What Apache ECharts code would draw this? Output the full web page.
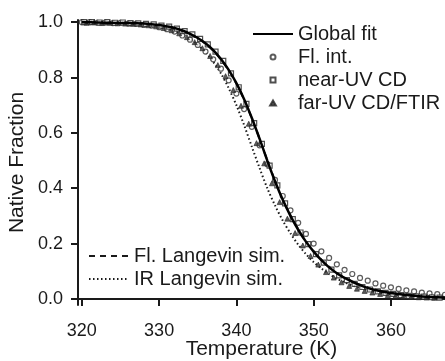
<!DOCTYPE html>
<html>
<head>
<meta charset="utf-8">
<script src="https://cdn.jsdelivr.net/npm/echarts@6/dist/echarts.min.js"></script>
<style>
  html, body { margin: 0; padding: 0; background: #fff; }
  #chart { width: 445px; height: 361px; }
</style>
</head>
<body>
<div id="chart"></div>
<script>
// temperature grid for the curves (K)
const curveT = [320, 322, 324, 326, 328, 329, 330, 331, 332, 333, 334, 335, 336, 337, 338, 339, 340,
  341, 342, 343, 344, 345, 346, 347, 348, 349, 350, 351, 352, 353, 354, 355, 356, 357, 358, 359, 360,
  362, 364, 367];

const globalFit = [1.000, 0.999, 0.998, 0.997, 0.995, 0.993, 0.990, 0.985, 0.979, 0.970, 0.958, 0.943,
  0.924, 0.899, 0.867, 0.828, 0.780, 0.722, 0.654, 0.579, 0.500, 0.425, 0.358, 0.300, 0.250, 0.207,
  0.171, 0.140, 0.114, 0.093, 0.076, 0.062, 0.050, 0.040, 0.032, 0.026, 0.021, 0.014, 0.009, 0.005];

const flLangevin = [1.000, 0.999, 0.998, 0.997, 0.995, 0.993, 0.990, 0.985, 0.978, 0.969, 0.957, 0.942,
  0.922, 0.897, 0.865, 0.826, 0.778, 0.720, 0.653, 0.579, 0.501, 0.427, 0.360, 0.302, 0.252, 0.209,
  0.173, 0.142, 0.116, 0.095, 0.078, 0.063, 0.051, 0.041, 0.033, 0.027, 0.022, 0.015, 0.010, 0.005];

const irLangevin = [1.000, 0.999, 0.997, 0.995, 0.991, 0.988, 0.983, 0.977, 0.967, 0.955, 0.939, 0.918,
  0.891, 0.857, 0.815, 0.762, 0.700, 0.628, 0.550, 0.473, 0.400, 0.338, 0.283, 0.237, 0.196, 0.162,
  0.133, 0.110, 0.090, 0.073, 0.060, 0.049, 0.040, 0.032, 0.026, 0.021, 0.017, 0.011, 0.007, 0.004];

// Fl. int. points, T = 320 .. 367
const flT = [320, 321, 322, 323, 324, 325, 326, 327, 328, 329, 330, 331, 332, 333, 334, 335, 336, 337,
  338, 339, 340, 341, 342, 343, 344, 345, 346, 347, 348, 349, 350, 351, 352, 353, 354, 355, 356, 357,
  358, 359, 360, 361, 362, 363, 364, 365, 366, 367];
const flInt = [1.000, 1.000, 0.998, 0.999, 0.997, 0.998, 0.995, 0.994, 0.990, 0.988, 0.982, 0.975,
  0.966, 0.952, 0.937, 0.918, 0.894, 0.866, 0.832, 0.790, 0.742, 0.686, 0.622, 0.555, 0.487, 0.430,
  0.372, 0.320, 0.275, 0.235, 0.200, 0.172, 0.148, 0.125, 0.105, 0.090, 0.076, 0.066, 0.056, 0.048,
  0.042, 0.036, 0.031, 0.027, 0.023, 0.020, 0.017, 0.015];

// near-UV CD points
const nearT = [320.3, 321.3, 322.3, 323.3, 324.3, 325.3, 326.3, 327.3, 328.3, 329.3, 330.3, 331.3,
  332.3, 333.3, 334.3, 335.3, 336.3, 337.3, 338.3, 339.3, 340.3, 341.3, 342.3, 343.3, 344.3, 345.3,
  346.3, 347.3, 348.3, 349.3, 350.3, 351.3, 352.3, 353.3, 354.3, 355.3, 356.3, 357.3, 358.3, 359.3,
  360.3, 361.3, 362.3, 363.3, 364.3, 365.3, 366.3];
const nearUV = [1.000, 1.000, 0.999, 1.000, 0.998, 0.999, 0.997, 0.996, 0.994, 0.992, 0.988, 0.984,
  0.977, 0.968, 0.956, 0.940, 0.920, 0.894, 0.860, 0.815, 0.765, 0.705, 0.635, 0.560, 0.482, 0.410,
  0.345, 0.288, 0.240, 0.198, 0.162, 0.131, 0.106, 0.085, 0.068, 0.054, 0.043, 0.034, 0.027, 0.022,
  0.018, 0.014, 0.011, 0.009, 0.008, 0.006, 0.005];

// far-UV CD / FTIR points
const farT = [320.6, 321.6, 322.6, 323.6, 324.6, 325.6, 326.6, 327.6, 328.6, 329.6, 330.6, 331.6,
  332.6, 333.6, 334.6, 335.6, 336.6, 337.6, 338.6, 339.6, 340.6, 341.6, 342.6, 343.6, 344.6, 345.6,
  346.6, 347.6, 348.6, 349.6, 350.6, 351.6, 352.6, 353.6, 354.6, 355.6, 356.6, 357.6, 358.6, 359.6,
  360.6, 361.6, 362.6, 363.6, 364.6, 365.6];
const farUV = [0.998, 1.000, 0.997, 0.998, 0.996, 0.995, 0.994, 0.992, 0.989, 0.985, 0.979, 0.971,
  0.960, 0.946, 0.928, 0.906, 0.878, 0.845, 0.805, 0.755, 0.698, 0.633, 0.563, 0.490, 0.418, 0.350,
  0.290, 0.238, 0.193, 0.155, 0.124, 0.097, 0.077, 0.060, 0.047, 0.037, 0.029, 0.023, 0.018, 0.014,
  0.011, 0.009, 0.007, 0.006, 0.005, 0.004];

const xTicks = [320, 330, 340, 350, 360];
const yTicks = [0.0, 0.2, 0.4, 0.6, 0.8, 1.0];

const pair = (xs, ys) => xs.map((x, i) => [x, ys[i]]);

const FONT = 'Liberation Sans';
const INK = '#1a1a1a';

// legend icons: small marker centred in a 40x5 box
const squareIcon = 'path://M0,0M40,5M17.5,0h5v5h-5z';
const triangleIcon = 'path://M0,0M40,5M20,0L22.9,5L17.1,5z';
const hideMarker = { opacity: 0 };

const chart = echarts.init(document.getElementById('chart'), null, { renderer: 'canvas' });

const legendText = { fontFamily: FONT, fontSize: 20, color: INK };

const option = {
  animation: false,
  backgroundColor: '#fff',
  textStyle: { fontFamily: FONT, color: INK },
  grid: { left: 78, right: 0, top: 20, bottom: 56, outerBoundsMode: 'none' },
  legend: [
    {
      left: 252,
      top: 24,
      padding: 0,
      orient: 'vertical',
      itemWidth: 40,
      itemHeight: 5,
      itemGap: 3,
      textStyle: legendText,
      data: [
        { name: 'Global fit', itemStyle: hideMarker },
        { name: 'Fl. int.' },
        { name: 'near-UV CD', icon: squareIcon },
        { name: 'far-UV CD/FTIR', icon: triangleIcon }
      ]
    },
    {
      left: 88,
      top: 246,
      padding: 0,
      orient: 'vertical',
      itemWidth: 40,
      itemHeight: 5,
      itemGap: 3,
      textStyle: legendText,
      data: [
        { name: 'Fl. Langevin sim.', itemStyle: hideMarker },
        { name: 'IR Langevin sim.', itemStyle: hideMarker }
      ]
    }
  ],
  xAxis: {
    type: 'value',
    min: 319.5,
    max: 367,
    name: 'Temperature (K)',
    nameLocation: 'middle',
    nameGap: 34,
    nameMoveOverlap: false,
    nameTextStyle: { fontFamily: FONT, fontSize: 21, color: INK },
    axisLine: { lineStyle: { color: INK, width: 2 } },
    axisTick: { customValues: xTicks, length: 7, lineStyle: { color: INK, width: 2 } },
    axisLabel: { customValues: xTicks, margin: 17, fontFamily: FONT, fontSize: 18, color: INK },
    splitLine: { show: false }
  },
  yAxis: {
    type: 'value',
    min: -0.022,
    max: 1.008,
    name: 'Native Fraction',
    nameLocation: 'middle',
    nameGap: 50,
    nameMoveOverlap: false,
    nameTextStyle: { fontFamily: FONT, fontSize: 21, color: INK },
    axisLine: { show: true, lineStyle: { color: INK, width: 2 } },
    axisTick: { show: true, customValues: yTicks, length: 7, lineStyle: { color: INK, width: 2 } },
    axisLabel: {
      customValues: yTicks, margin: 15, fontFamily: FONT, fontSize: 18, color: INK,
      formatter: v => v.toFixed(1)
    },
    splitLine: { show: false }
  },
  series: [
    {
      name: 'Fl. Langevin sim.',
      type: 'line',
      data: pair(curveT, flLangevin),
      showSymbol: false,
      symbol: 'none',
      smooth: 0.3,
      itemStyle: { color: INK },
      lineStyle: { color: INK, width: 2, type: [6, 5] },
      z: 2
    },
    {
      name: 'IR Langevin sim.',
      type: 'line',
      data: pair(curveT, irLangevin),
      showSymbol: false,
      symbol: 'none',
      smooth: 0.3,
      itemStyle: { color: INK },
      lineStyle: { color: INK, width: 2, type: [1.5, 2.5] },
      z: 2
    },
    {
      name: 'Fl. int.',
      type: 'scatter',
      data: pair(flT, flInt),
      symbol: 'circle',
      symbolSize: 5,
      itemStyle: { color: '#fff', borderColor: '#333', borderWidth: 1.2 },
      z: 3
    },
    {
      name: 'near-UV CD',
      type: 'scatter',
      data: pair(nearT, nearUV),
      symbol: 'rect',
      symbolSize: 5,
      itemStyle: { color: '#fff', borderColor: '#222', borderWidth: 1.2 },
      z: 3
    },
    {
      name: 'far-UV CD/FTIR',
      type: 'scatter',
      data: pair(farT, farUV),
      symbol: 'triangle',
      symbolSize: 5,
      itemStyle: { color: '#333', borderColor: '#222', borderWidth: 0.8 },
      z: 3
    },
    {
      name: 'Global fit',
      type: 'line',
      data: pair(curveT, globalFit),
      showSymbol: false,
      symbol: 'none',
      smooth: 0.3,
      itemStyle: { color: '#000' },
      lineStyle: { color: '#000', width: 2.5 },
      z: 4
    }
  ]
};

chart.setOption(option);
</script>
</body>
</html>
